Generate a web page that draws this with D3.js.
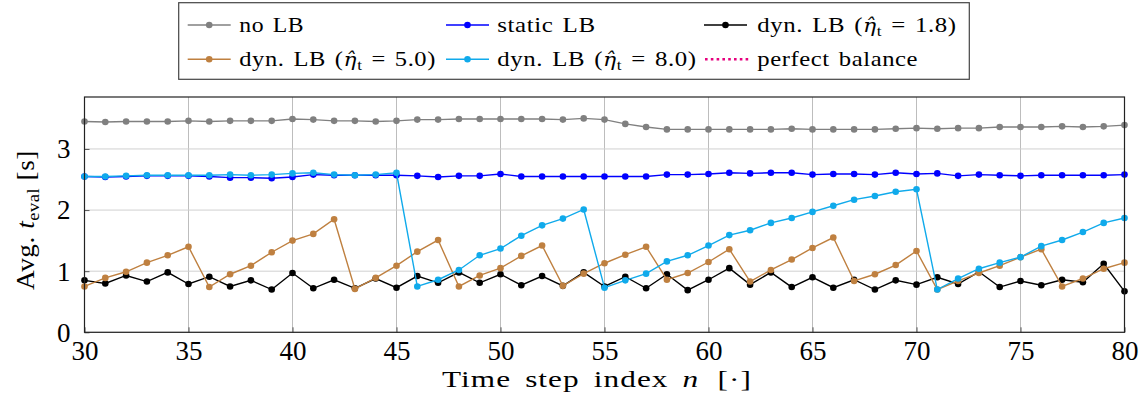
<!DOCTYPE html>
<html><head><meta charset="utf-8">
<script src="https://cdn.jsdelivr.net/npm/d3@7"></script>
<style>body{margin:0;background:#fff}svg{display:block}text{font-family:"Liberation Serif","DejaVu Serif",serif}</style>
</head><body><svg id="c" width="1146" height="417"></svg>
<script>
const steps = d3.range(30, 81);
const noLB = [3.45,3.44,3.45,3.45,3.45,3.46,3.45,3.46,3.46,3.46,3.49,3.48,3.46,3.46,3.45,3.46,3.48,3.48,3.49,3.49,3.49,3.49,3.49,3.48,3.50,3.48,3.41,3.36,3.32,3.32,3.32,3.32,3.32,3.32,3.33,3.32,3.32,3.32,3.32,3.33,3.34,3.33,3.34,3.34,3.36,3.36,3.36,3.37,3.36,3.37,3.39];
const staticLB = [2.55,2.54,2.55,2.56,2.56,2.56,2.55,2.53,2.53,2.52,2.54,2.58,2.57,2.57,2.57,2.57,2.56,2.54,2.56,2.56,2.59,2.55,2.55,2.55,2.55,2.55,2.55,2.55,2.58,2.58,2.59,2.61,2.60,2.61,2.61,2.58,2.59,2.59,2.58,2.61,2.59,2.60,2.56,2.58,2.57,2.56,2.57,2.57,2.57,2.57,2.58];
const dyn18 = [0.85,0.80,0.93,0.83,0.98,0.79,0.91,0.75,0.85,0.70,0.97,0.72,0.86,0.72,0.88,0.73,0.92,0.81,0.98,0.81,0.95,0.77,0.92,0.76,0.98,0.75,0.91,0.72,0.95,0.69,0.86,1.05,0.78,0.98,0.74,0.90,0.73,0.86,0.70,0.85,0.78,0.90,0.79,0.99,0.74,0.84,0.77,0.86,0.82,1.12,0.67];
const dyn50 = [0.75,0.89,0.99,1.14,1.26,1.40,0.74,0.95,1.09,1.31,1.50,1.61,1.85,0.71,0.89,1.09,1.32,1.51,0.75,0.93,1.05,1.25,1.42,0.76,0.96,1.13,1.27,1.40,0.86,0.97,1.15,1.36,0.83,1.02,1.19,1.38,1.55,0.84,0.95,1.10,1.33,0.70,0.84,0.97,1.09,1.23,1.36,0.75,0.88,1.04,1.14];
const dyn80 = [2.55,2.55,2.56,2.57,2.57,2.57,2.57,2.58,2.57,2.58,2.60,2.61,2.58,2.57,2.58,2.61,0.75,0.86,1.02,1.26,1.37,1.58,1.75,1.86,2.01,0.73,0.85,0.96,1.16,1.26,1.42,1.59,1.67,1.79,1.87,1.97,2.07,2.17,2.23,2.30,2.34,0.70,0.88,1.04,1.14,1.23,1.41,1.51,1.64,1.79,1.87];
const xTicks = [30,35,40,45,50,55,60,65,70,75,80];
const yTicks = [0,1,2,3];

const series = [
  {name:"no LB", values:noLB, color:"#808080"},
  {name:"static LB", values:staticLB, color:"#0000ff"},
  {name:"dyn18", values:dyn18, color:"#000000"},
  {name:"dyn50", values:dyn50, color:"#bf8040"},
  {name:"dyn80", values:dyn80, color:"#10aaeb"}
];

const svg = d3.select("#c");
const L = 84.5, R = 1124.5, T = 97, B = 332.3;
const x = d3.scaleLinear().domain([30,80]).range([L,R]);
const y = d3.scaleLinear().domain([0,3.85]).range([B,T]);

// grid
const g = svg.append("g");
g.selectAll(".vg").data(xTicks).enter().append("line")
  .attr("x1",d=>x(d)).attr("x2",d=>x(d)).attr("y1",T).attr("y2",B)
  .attr("stroke","#bdbdbd").attr("stroke-width",1);
g.selectAll(".hg").data(yTicks).enter().append("line")
  .attr("x1",L).attr("x2",R).attr("y1",d=>y(d)).attr("y2",d=>y(d))
  .attr("stroke","#d0d0d0").attr("stroke-width",1);

// axes (ticks inside)
const xa = svg.append("g").attr("transform",`translate(0,${B})`)
  .call(d3.axisBottom(x).tickValues(xTicks).tickSize(-5).tickPadding(0).tickFormat(d3.format("d")));
const ya = svg.append("g").attr("transform",`translate(${L},0)`)
  .call(d3.axisLeft(y).tickValues(yTicks).tickSize(-5).tickPadding(14).tickFormat(d3.format("d")));
[xa,ya].forEach(a=>{
  a.select(".domain").remove();
  a.selectAll(".tick line").attr("stroke","#555");
  a.selectAll(".tick text").attr("font-size",27).attr("fill","#000")
    .style("font-family","'Liberation Serif',serif");
});
xa.selectAll(".tick text").attr("dy",null).attr("y",27.5);
ya.selectAll(".tick text").attr("dy","0.33em");

// series
const line = d3.line().x((d,i)=>x(steps[i])).y(d=>y(d));
series.forEach(s=>{
  const sg = svg.append("g");
  sg.append("path").attr("d",line(s.values)).attr("fill","none")
    .attr("stroke",s.color).attr("stroke-width",1.4);
  sg.selectAll("circle").data(s.values).enter().append("circle")
    .attr("cx",(d,i)=>x(steps[i])).attr("cy",d=>y(d)).attr("r",3.3)
    .attr("fill",s.color);
});

// frame
svg.append("rect").attr("x",L).attr("y",T).attr("width",R-L).attr("height",B-T)
  .attr("fill","none").attr("stroke","#222").attr("stroke-width",1.2);

// helper: stretch text group horizontally to a target width
function fit(gSel, textSel, x0, width){
  const bb = textSel.node().getBBox();
  const sx = width / bb.width;
  gSel.attr("transform", `translate(${x0},0) scale(${sx},1) translate(${-bb.x},0)`);
}

// x label
const xg = svg.append("g");
const xl = xg.append("text").attr("x",0).attr("y",387.5).attr("font-size",24)
  .attr("letter-spacing",0.8).attr("word-spacing",4);
xl.append("tspan").text("Time step index ");
xl.append("tspan").attr("font-style","italic").text("n");
xl.append("tspan").attr("dx",14).text("[·]");
fit(xg, xl, 442, 310);

// y label (rotated)
const yg = svg.append("g").attr("transform","translate(34,290) rotate(-90)");
const yg2 = yg.append("g");
const yl = yg2.append("text").attr("x",0).attr("y",0).attr("font-size",25)
  .attr("letter-spacing",0.5);
yl.append("tspan").text("Avg. ");
yl.append("tspan").attr("font-style","italic").text("t");
yl.append("tspan").attr("font-size",17).attr("dy",5).text("eval");
yl.append("tspan").attr("dy",-5).text(" [s]");
fit(yg2, yl, 0, 140);

// legend
const leg = svg.append("g");
leg.append("rect").attr("x",178.7).attr("y",2.7).attr("width",790.6).attr("height",76.6)
  .attr("fill","#fff").attr("stroke","#444").attr("stroke-width",1.2);
const legendItems = [
  {s:0, lx:187.7, ly:25,   tx:239.3, tw:65,    label:["no LB"]},
  {s:1, lx:446,   ly:25,   tx:497.3, tw:98.4,  label:["static LB"]},
  {s:2, lx:704,   ly:25,   tx:757.3, tw:199.4, label:["dyn. LB (","η̂","t"," = 1.8)"]},
  {s:3, lx:187.7, ly:59.3, tx:239.3, tw:196.7, label:["dyn. LB (","η̂","t"," = 5.0)"]},
  {s:4, lx:446,   ly:59.3, tx:497.3, tw:199.4, label:["dyn. LB (","η̂","t"," = 8.0)"]},
  {s:-1,lx:704,   ly:59.3, tx:757.3, tw:161,   label:["perfect balance"]}
];
legendItems.forEach(it=>{
  if(it.s>=0){
    const c = series[it.s].color;
    leg.append("line").attr("x1",it.lx).attr("x2",it.lx+43).attr("y1",it.ly).attr("y2",it.ly)
      .attr("stroke",c).attr("stroke-width",1.4);
    leg.append("circle").attr("cx",it.lx+21.5).attr("cy",it.ly).attr("r",3.3).attr("fill",c);
  } else {
    leg.append("line").attr("x1",it.lx+1).attr("x2",it.lx+46).attr("y1",it.ly).attr("y2",it.ly)
      .attr("stroke","#e6007e").attr("stroke-width",2.4).attr("stroke-dasharray","2.6,3.2");
  }
  const tg = leg.append("g");
  const t = tg.append("text").attr("x",0).attr("y",it.ly+7).attr("font-size",21.5)
    .attr("letter-spacing",0.5).attr("word-spacing",2);
  if(it.label.length===1){ t.text(it.label[0]); }
  else {
    t.append("tspan").text(it.label[0]);
    t.append("tspan").attr("font-style","italic").style("font-family","'DejaVu Serif',serif")
      .attr("font-size",19).text(it.label[1]);
    t.append("tspan").attr("font-size",15).attr("dy",4).text(it.label[2]);
    t.append("tspan").attr("dy",-4).text(it.label[3]);
  }
  fit(tg, t, it.tx, it.tw);
});
</script></body></html>
